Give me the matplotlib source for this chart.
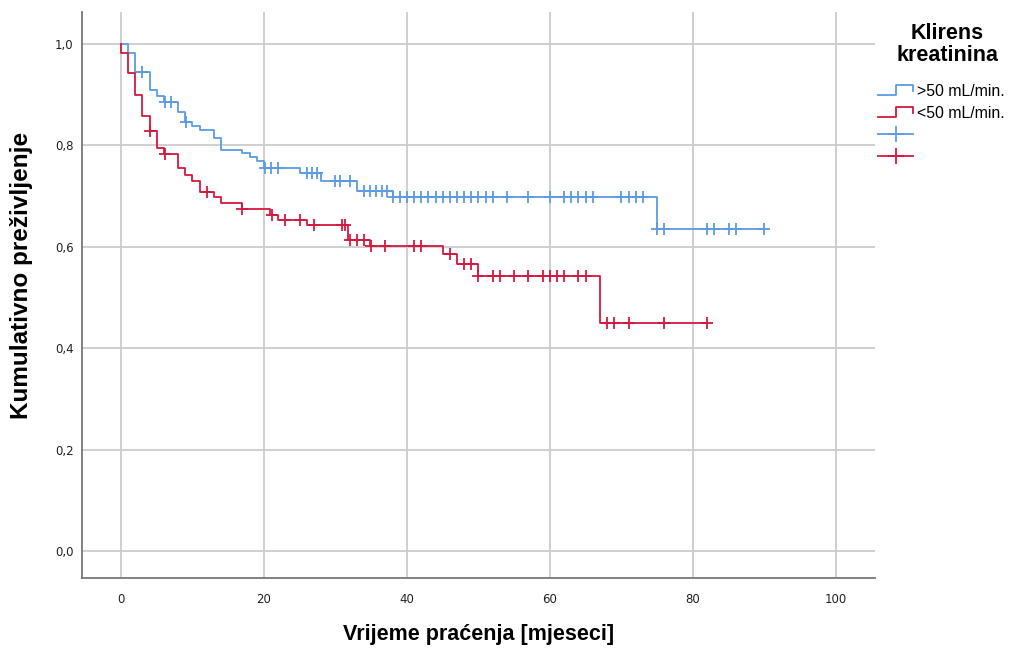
import numpy as np
import matplotlib
matplotlib.use('Agg')
import matplotlib.pyplot as plt
from matplotlib.lines import Line2D
from matplotlib.legend_handler import HandlerBase

# Kaplan-Meier steps (time in months, survival after the event)
blue_t = [0, 1, 2, 4, 5, 6, 8, 9, 10, 11, 13, 14, 17, 18, 19, 20, 25, 28, 33, 38, 75, 90]
blue_s = [1.0, 0.981, 0.944, 0.909, 0.896, 0.886, 0.866, 0.845, 0.837, 0.829, 0.814,
          0.791, 0.784, 0.776, 0.768, 0.756, 0.745, 0.730, 0.709, 0.697, 0.634, 0.634]
blue_cens = [3, 6.2, 7, 9.1, 20.1, 21, 22, 26, 26.7, 27.4, 30, 30.7, 32, 34, 34.8, 35.7,
             36.5, 37.2, 38.1, 39, 40, 41, 42, 43, 44, 45, 46, 47, 48, 49, 50, 51, 52, 54,
             57, 60, 62, 63, 64, 65, 66, 70, 71, 72, 73, 75, 76, 82, 83, 85, 86, 90]

red_t = [0, 0, 1, 2, 3, 4, 5, 6, 8, 9, 10, 11, 13, 14, 17, 20.8, 22, 26, 31.8, 34.8,
         45, 47, 50, 67, 82]
red_s = [1.0, 0.981, 0.942, 0.899, 0.857, 0.827, 0.794, 0.783, 0.755, 0.741, 0.729,
         0.708, 0.697, 0.686, 0.675, 0.662, 0.653, 0.642, 0.614, 0.602, 0.585, 0.565,
         0.542, 0.450, 0.450]
red_cens = [4, 6.1, 12, 17, 21.1, 23, 25, 27, 30.9, 31.3, 32, 33, 34, 35, 37, 41, 42, 46,
            48, 49, 50, 52, 53, 55, 57, 59, 60, 61, 62, 64, 65, 68, 69, 71, 76, 82]

labels = ['>50 mL/min.', '<50 mL/min.']
blue_c = '#5b9be3'
red_c = '#d6173f'

yticks = [0.0, 0.2, 0.4, 0.6, 0.8, 1.0]
xticks = [0, 20, 40, 60, 80, 100]


def surv_at(ts, ss, c):
    i = np.searchsorted(ts, c, side='right') - 1
    return ss[i]


class StepHandler(HandlerBase):
    def create_artists(self, legend, orig_handle, xdescent, ydescent, width, height,
                       fontsize, trans):
        x0 = -xdescent
        xs = [x0, x0 + 0.5 * width, x0 + 0.5 * width, x0 + width, x0 + width]
        ys = [0.05 * height, 0.05 * height, 1.0 * height, 1.0 * height, 0.45 * height]
        ln = Line2D(xs, ys, color=orig_handle.get_color(), lw=1.3)
        ln.set_transform(trans)
        return [ln]


fig = plt.figure(figsize=(10.2, 6.51), dpi=100)
ax = fig.add_axes([0.0804, 0.112, 0.7776, 0.870])

b_line, = ax.plot(blue_t, blue_s, drawstyle='steps-post', color=blue_c, lw=1.3, zorder=3)
r_line, = ax.plot(red_t, red_s, drawstyle='steps-post', color=red_c, lw=1.3, zorder=4)

ax.plot(blue_cens, [surv_at(blue_t, blue_s, c) for c in blue_cens], ls='none',
        marker='+', ms=9, mew=1.3, color=blue_c, zorder=3)
ax.plot(red_cens, [surv_at(red_t, red_s, c) for c in red_cens], ls='none',
        marker='+', ms=9, mew=1.3, color=red_c, zorder=4)

ax.set_xlim(-5.45, 105.5)
ax.set_ylim(-0.053, 1.063)
ax.set_xticks(xticks)
ax.set_yticks(yticks)
ax.set_yticklabels([('%.1f' % v).replace('.', ',') for v in yticks])
ax.tick_params(length=0, labelsize=8.5, colors='#222222')
ax.tick_params(axis='y', pad=6)
ax.tick_params(axis='x', pad=11)

ax.grid(True, color='#cccccc', lw=1.3)
ax.set_axisbelow(True)
for s in ['top', 'right']:
    ax.spines[s].set_visible(False)
for s in ['left', 'bottom']:
    ax.spines[s].set_color('#777777')
    ax.spines[s].set_linewidth(1.3)

ax.set_xlabel('Vrijeme praćenja [mjeseci]', fontsize=15.5, fontweight='bold',
              family='Liberation Sans')
ax.xaxis.set_label_coords(0.5, -0.081)
ax.set_ylabel('Kumulativno preživljenje', fontsize=17.5, fontweight='bold',
              family='Liberation Sans')
ax.yaxis.set_label_coords(-0.062, 0.535)

fig.text(0.929, 0.965, 'Klirens\nkreatinina', ha='center', va='top', fontsize=15.5,
         fontweight='bold', family='Liberation Sans', linespacing=1.05)

cb = Line2D([], [], color=blue_c, lw=1.3, marker='+', ms=12, mew=1.3)
cr = Line2D([], [], color=red_c, lw=1.3, marker='+', ms=12, mew=1.3)
leg = ax.legend([b_line, r_line, cb, cr], labels + ['', ''],
                handler_map={b_line: StepHandler(), r_line: StepHandler()},
                loc='upper left', bbox_to_anchor=(0.861, 0.871),
                bbox_transform=fig.transFigure, frameon=False,
                prop={'family': 'Liberation Sans', 'size': 11.4},
                handlelength=2.2, handletextpad=0.25, labelspacing=0.44,
                borderaxespad=0, borderpad=0)

fig.savefig('out.png', dpi=100)
